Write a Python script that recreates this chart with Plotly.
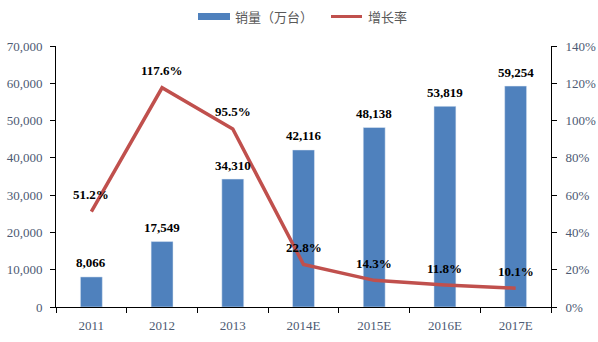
import plotly.graph_objects as go

# Annual sales (10k units) and year-on-year growth
years = ["2011", "2012", "2013", "2014E", "2015E", "2016E", "2017E"]
sales = [8066, 17549, 34310, 42116, 48138, 53819, 59254]
growth = [51.2, 117.6, 95.5, 22.8, 14.3, 11.8, 10.1]
sales_name = "销量（万台）"
growth_name = "增长率"

BAR = "#4F81BD"
LINE = "#C0504D"
TICK = "#4d5a73"
SERIF = "Liberation Serif, Times New Roman, serif"
CJK = "Noto Sans CJK SC, sans-serif"
LABEL_FONT = dict(family=SERIF, size=13, color="black")

W, H = 598, 342
ML, MR, MT, MB = 56, 47, 46, 35
PW, PH = W - ML - MR, H - MT - MB


def px(x):
    return (x - ML) / PW


def py(y):
    return (H - MB - y) / PH


fig = go.Figure()
fig.add_trace(go.Bar(
    x=years, y=sales, name=sales_name, marker_color=BAR, width=0.31,
    showlegend=False,
))
fig.add_trace(go.Scatter(
    x=years, y=growth, name=growth_name, mode="lines", yaxis="y2",
    line=dict(color=LINE, width=3.5), showlegend=False,
))

# value labels above the bars
for i, v in enumerate(sales):
    fig.add_annotation(
        x=i, y=v, xref="x", yref="y", text=f"<b>{v:,}</b>", showarrow=False,
        yshift=14, font=LABEL_FONT,
    )

# growth labels above the line points
for i, g in enumerate(growth):
    fig.add_annotation(
        x=i, y=g, xref="x", yref="y2", text=f"<b>{g:.1f}%</b>", showarrow=False,
        yshift=17, font=LABEL_FONT,
    )

# legend drawn at the top
fig.add_shape(type="rect", xref="paper", yref="paper",
              x0=px(198), x1=px(230), y0=py(20), y1=py(13),
              fillcolor=BAR, line_width=0)
fig.add_annotation(xref="paper", yref="paper", x=px(233), y=py(16.5),
                   xanchor="left", yanchor="middle", text=sales_name, showarrow=False,
                   font=dict(family=CJK, size=13, color="#595959"))
fig.add_shape(type="line", xref="paper", yref="paper",
              x0=px(331), x1=px(362), y0=py(16.5), y1=py(16.5),
              line=dict(color=LINE, width=3))
fig.add_annotation(xref="paper", yref="paper", x=px(366), y=py(16.5),
                   xanchor="left", yanchor="middle", text=growth_name, showarrow=False,
                   font=dict(family=CJK, size=13, color="#595959"))

axis_common = dict(
    showline=True, linecolor="black", linewidth=1,
    ticks="outside", ticklen=5, tickcolor="black", automargin=False,
    tickfont=dict(family=SERIF, size=13, color=TICK), showgrid=False,
)

fig.update_layout(
    width=W, height=H,
    margin=dict(l=ML, r=MR, t=MT, b=MB),
    plot_bgcolor="white", paper_bgcolor="white",
    showlegend=False,
    xaxis=dict(type="category", range=[-0.5, 6.5], tickson="boundaries",
               ticklabelstandoff=6, **axis_common),
    yaxis=dict(range=[0, 70000], dtick=10000, tickformat=",d", zeroline=False,
               ticklabelstandoff=5, **axis_common),
    yaxis2=dict(range=[0, 140], dtick=20, ticksuffix="%", overlaying="y",
                side="right", zeroline=False, ticklabelstandoff=6, **axis_common),
)

fig.write_html("out.html")
